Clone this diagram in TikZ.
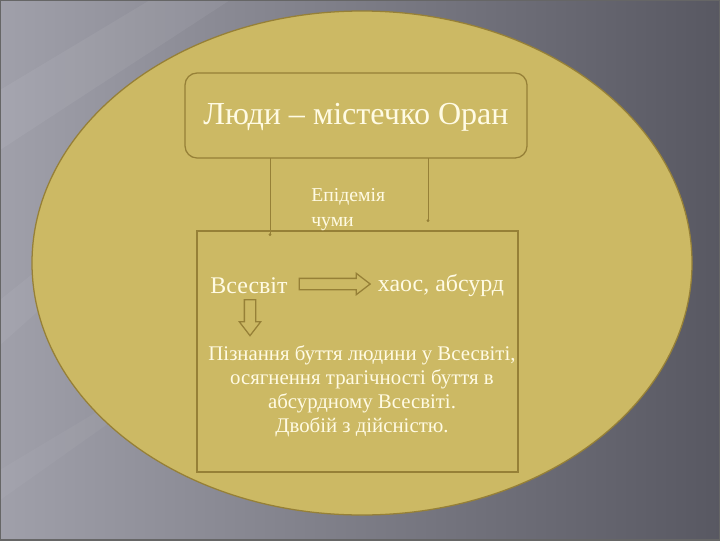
\documentclass[tikz,border=0pt]{standalone}
\usepackage{fontspec}
\setmainfont{Liberation Serif}
\usetikzlibrary{shapes.arrows,arrows.meta}

\definecolor{bgdark}{RGB}{88,88,98}
\definecolor{bglight}{RGB}{160,160,170}
\definecolor{sand}{RGB}{204,185,100}
\definecolor{olive}{RGB}{150,128,55}
\definecolor{cream}{RGB}{255,251,228}

\tikzset{
  label text/.style={text=cream, font=#1, align=center, inner sep=0pt},
  frame/.style={draw=olive, line width=0.9pt},
  link/.style={draw=olive, line width=0.6pt, -{Circle[length=2pt]}},
  fat arrow/.style={single arrow, draw=olive, fill=sand, line width=0.9pt,
    single arrow head extend=0.125cm, single arrow tip angle=75, inner sep=0.125cm}
}

\begin{document}
\begin{tikzpicture}[x=0.025cm, y=-0.025cm]
            % Background and the big ellipse
            \useasboundingbox (0,0) rectangle (720,540);
            \shade[left color=bglight, right color=bgdark] (0,0) rectangle (720,540);
            \fill[white, opacity=0.06] (0,90) -- (150,0) -- (230,0) -- (0,150) -- cycle;
            \fill[white, opacity=0.05] (0,300) -- (200,140) -- (230,140) -- (0,345) -- cycle;
            \fill[white, opacity=0.04] (0,470) -- (150,380) -- (170,380) -- (0,500) -- cycle;
            \filldraw[fill=sand, draw=olive, line width=0.9pt] (362,263) ellipse [x radius=330, y radius=252];
            \draw[black!60, line width=1pt] (0,0) rectangle (720,540);

            % Boxes
            \draw[frame, rounded corners=0.3cm] (185,73) rectangle (527,158);
            \draw[frame] (197,231) rectangle (518,472);

            % Nodes with manual coordinates
            \node[label text=\fontsize{22.8}{26}\selectfont] (people) at (356,117) {Люди – містечко Оран};
            \coordinate (peopleL) at (270,158);
            \coordinate (peopleR) at (428,158);
            \coordinate (worldTop) at (270,236);
            \coordinate (plagueEnd) at (428,222);
            \node[label text=\fontsize{14}{18}\selectfont, align=left, anchor=north west] (plague) at (311,188) {Епідемія\\чуми};
            \node[label text=\fontsize{17}{20}\selectfont] (world) at (249,286) {Всесвіт};
            \node[label text=\fontsize{17}{20}\selectfont] (chaos) at (441,286) {хаос, абсурд};
            \node[fat arrow, minimum height=71*0.025cm] (arrR) at (331,284) {};
            \node[fat arrow, shape border rotate=270, minimum height=36*0.025cm] (arrD) at (250,314) {};
            \node[label text=\fontsize{14.8}{17.2}\selectfont, anchor=north] (meaning) at (362,345)
              {Пізнання буття людини у Всесвіті,\\осягнення трагічності буття в\\абсурдному Всесвіті.\\Двобій з дійсністю.};

            % Edges
            \draw[link] (peopleL) -- (worldTop);
            \draw[link] (peopleR) -- (plagueEnd);
\end{tikzpicture}
\end{document}
